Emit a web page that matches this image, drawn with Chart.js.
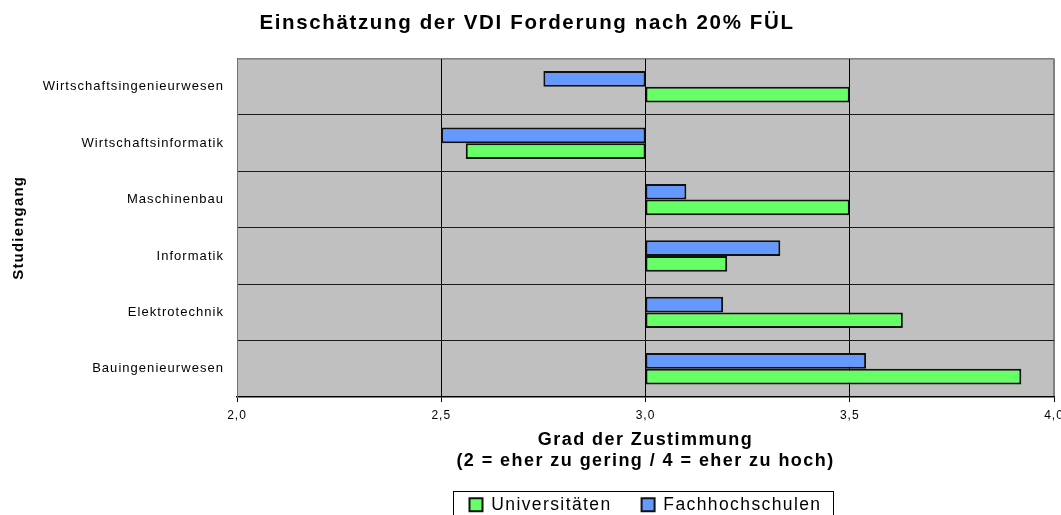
<!DOCTYPE html>
<html lang="de">
<head>
<meta charset="utf-8">
<title>Einschätzung der VDI Forderung</title>
<script src="https://cdn.jsdelivr.net/npm/chart.js@4/dist/chart.umd.min.js"></script>
<style>
  html, body { margin: 0; padding: 0; background: #fff; }
  canvas { display: block; }
</style>
</head>
<body>
<canvas id="graficoVDI" width="1061" height="515"></canvas>
<script>
// Daten (von oben nach unten)
const studiengaenge = ['Wirtschaftsingenieurwesen', 'Wirtschaftsinformatik', 'Maschinenbau', 'Informatik', 'Elektrotechnik', 'Bauingenieurwesen'];
const universitaeten = [3.50, 2.56, 3.50, 3.20, 3.63, 3.92];
const fachhochschulen = [2.75, 2.50, 3.10, 3.33, 3.19, 3.54];
const basis = 3.0; // Balken starten bei 3,0
const skalaX = [2.0, 4.0, 0.5]; // min, max, Schritt

const canvas = document.getElementById('graficoVDI');
const ctx = canvas.getContext('2d');

// etwas Buchstabenabstand wie im Original (Excel-Grafik)
const abstand = () => {
    const m = /([\d.]+)px/.exec(ctx.font);
    ctx.letterSpacing = m ? (parseFloat(m[1]) * 0.08).toFixed(2) + 'px' : '0px';
};
const fillOrig = ctx.fillText.bind(ctx);
const measureOrig = ctx.measureText.bind(ctx);
ctx.fillText = (...a) => { abstand(); fillOrig(...a); };
ctx.measureText = (t) => { abstand(); return measureOrig(t); };

Chart.defaults.font.family = "'Liberation Sans', Arial, sans-serif";
Chart.defaults.color = '#000';

// grauer Hintergrund + Rahmen der Zeichenfläche, Rahmen um die Legende
const hintergrund = {
    id: 'hintergrund',
    beforeDraw(chart) {
        const {ctx, chartArea: a} = chart;
        ctx.save();
        ctx.fillStyle = '#c0c0c0';
        ctx.fillRect(a.left, a.top, a.right - a.left, a.bottom - a.top);
        ctx.strokeStyle = '#808080';
        ctx.lineWidth = 1;
        ctx.strokeRect(a.left + 0.5, a.top + 0.5, a.right - a.left - 1, a.bottom - a.top - 1);
        ctx.restore();
    },
    afterDraw(chart) {
        const boxes = chart.legend.legendHitBoxes;
        if (!boxes || !boxes.length) return;
        const links = Math.min(...boxes.map(b => b.left)) - 16;
        const rechts = Math.max(...boxes.map(b => b.left + b.width)) + 12;
        const oben = Math.min(...boxes.map(b => b.top)) - 5;
        const c = chart.ctx;
        c.save();
        c.strokeStyle = '#000';
        c.lineWidth = 1;
        c.strokeRect(Math.round(links) + 0.5, Math.round(oben) + 0.5, Math.round(rechts - links), 40);
        c.restore();
    }
};

new Chart(ctx, {
    type: 'bar',
    data: {
        labels: studiengaenge,
        datasets: [
            {
                label: 'Fachhochschulen',
                data: fachhochschulen.map(v => [basis, v]),
                backgroundColor: '#6699ff',
                borderColor: '#111',
                borderWidth: 2,
                borderSkipped: false
            },
            {
                label: 'Universitäten',
                data: universitaeten.map(v => [basis, v]),
                backgroundColor: '#66ff66',
                borderColor: '#111',
                borderWidth: 2,
                borderSkipped: false
            }
        ]
    },
    options: {
        indexAxis: 'y',
        responsive: false,
        animation: false,
        categoryPercentage: 0.556,
        barPercentage: 1,
        layout: { padding: { left: 0, right: 7, top: 0, bottom: 0 } },
        plugins: {
            title: {
                display: true,
                text: 'Einschätzung der VDI Forderung nach 20% FÜL',
                font: { size: 20.5, weight: 'bold' },
                color: '#000',
                padding: { top: 11, bottom: 23 }
            },
            legend: {
                position: 'bottom',
                fullSize: false,
                reverse: true,
                maxHeight: 49,
                labels: {
                    boxWidth: 13,
                    boxHeight: 13,
                    padding: 30,
                    font: { size: 17.5 },
                    color: '#000'
                }
            },
            tooltip: { enabled: false }
        },
        scales: {
            x: {
                min: skalaX[0],
                max: skalaX[1],
                ticks: {
                    stepSize: skalaX[2],
                    padding: 6,
                    font: { size: 12 },
                    callback: v => v.toFixed(1).replace('.', ',')
                },
                grid: {
                    color: c => (c.tick && (c.tick.value === 2 || c.tick.value === 4)) ? '#808080' : '#000',
                    tickColor: '#000',
                    tickLength: 5
                },
                border: { color: '#000', width: 1.5 },
                title: {
                    display: true,
                    text: ['Grad der Zustimmung', '(2 = eher zu gering / 4 = eher zu hoch)'],
                    font: { size: 18, weight: 'bold', lineHeight: 1.2 },
                    padding: { top: 0, bottom: -6 }
                },
                afterFit: s => { s.height = 69; s.paddingLeft = 0; s.paddingRight = 0; }
            },
            y: {
                ticks: { padding: 13, font: { size: 13 } },
                grid: {
                    offset: true,
                    drawTicks: false,
                    color: c => (c.index === 0) ? '#808080' : '#1a1a1a'
                },
                border: { color: '#707070' },
                title: {
                    display: true,
                    text: 'Studiengang',
                    font: { size: 15, weight: 'bold' },
                    padding: { top: 10, bottom: 0 }
                },
                afterFit: s => { s.width = 237; }
            }
        }
    },
    plugins: [hintergrund]
});
</script>
</body>
</html>
